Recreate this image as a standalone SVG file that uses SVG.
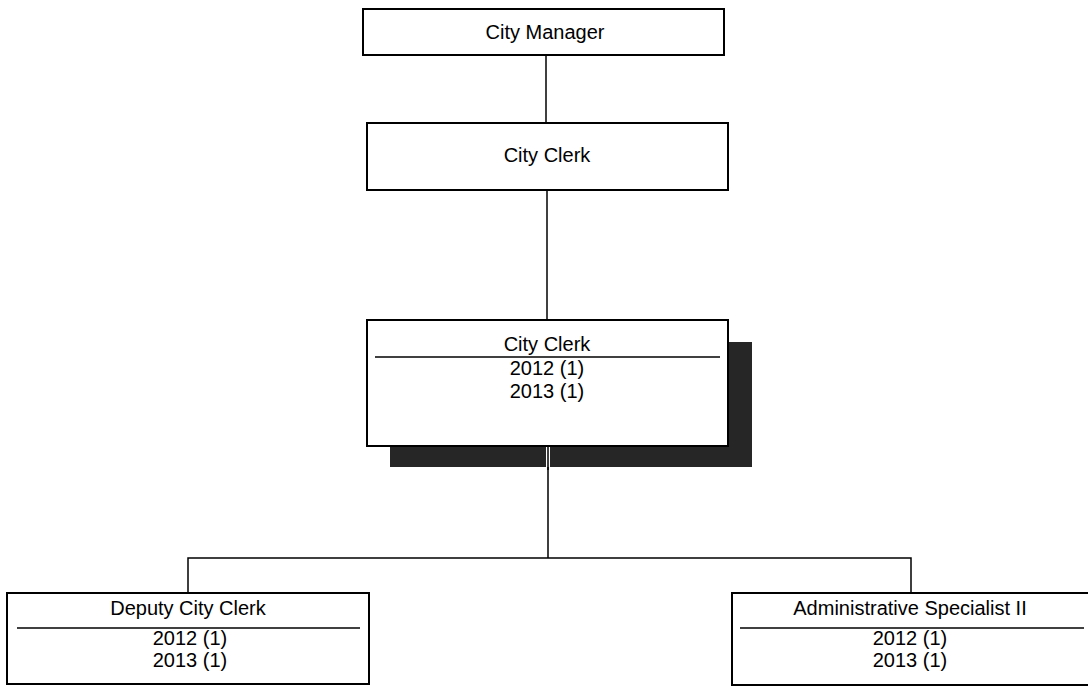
<svg xmlns="http://www.w3.org/2000/svg" width="1088" height="686" viewBox="0 0 1088 686">
<style>
.box{fill:#fff;stroke:#000;stroke-width:2}
.sep{stroke:#000;stroke-width:1.5}
.conn{fill:none;stroke:#000;stroke-width:1.5}
text{font-family:"Liberation Sans",Arial,sans-serif;font-size:20px;fill:#000;text-anchor:middle}
</style>
<rect width="1088" height="686" fill="#fff"/>
<g id="connectors">
<line class="conn" x1="546" y1="55" x2="546" y2="123"/>
<line class="conn" x1="547" y1="190" x2="547" y2="320"/>
<path class="conn" d="M548 446 V558 M188 593 V558 H911 V593"/>
</g>
<g id="city-manager">
<rect class="box" x="363" y="9" width="361" height="46"/>
<text x="545" y="39">City Manager</text>
</g>
<g id="city-clerk-title">
<rect class="box" x="367" y="123" width="361" height="67"/>
<text x="547" y="162">City Clerk</text>
</g>
<g id="city-clerk">
<rect x="390" y="342" width="362" height="125" fill="#262626"/>
<rect x="546" y="446" width="4" height="21" fill="#fff"/>
<line class="conn" x1="548" y1="446" x2="548" y2="470"/>
<rect class="box" x="367" y="320" width="361" height="126"/>
<text x="547" y="351">City Clerk</text>
<line class="sep" x1="375" y1="357" x2="720" y2="357"/>
<text x="547" y="375">2012 (1)</text>
<text x="547" y="398">2013 (1)</text>
</g>
<g id="deputy-city-clerk">
<rect class="box" x="7" y="593" width="362" height="91"/>
<text x="188" y="615">Deputy City Clerk</text>
<line class="sep" x1="17" y1="628" x2="360" y2="628"/>
<text x="190" y="645">2012 (1)</text>
<text x="190" y="667">2013 (1)</text>
</g>
<g id="administrative-specialist">
<rect class="box" x="732" y="593" width="362" height="92"/>
<text x="910" y="615">Administrative Specialist II</text>
<line class="sep" x1="740" y1="628" x2="1084" y2="628"/>
<text x="910" y="645">2012 (1)</text>
<text x="910" y="667">2013 (1)</text>
</g>
</svg>
